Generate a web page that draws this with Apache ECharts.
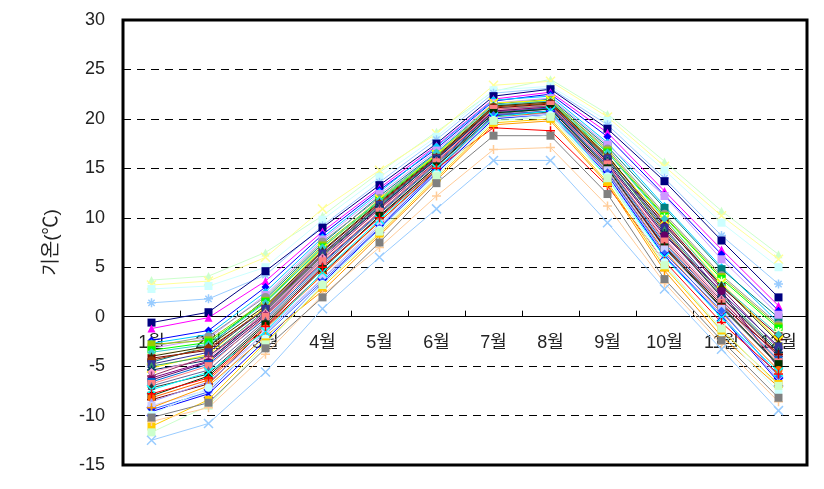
<!DOCTYPE html>
<html>
<head>
<meta charset="utf-8">
<script src="https://cdn.jsdelivr.net/npm/echarts@6/dist/echarts.min.js"></script>
<style>
  html, body { margin: 0; padding: 0; background: #fff; }
  #chart { width: 824px; height: 489px; }
</style>
</head>
<body>
<div id="chart"></div>
<script>
// 월
const months = ["1월", "2월", "3월", "4월", "5월", "6월", "7월", "8월", "9월", "10월", "11월", "12월"];
const yTicks = [-15, -10, -5, 0, 5, 10, 15, 20, 25, 30];

// 지점별 월평균기온
const s01 = [3.7, 4.1, 6.5, 10.2, 14.6, 18.7, 22.8, 24.0, 20.5, 15.7, 10.7, 6.3];
const s02 = [3.2, 3.6, 6.0, 10.9, 14.8, 18.5, 23.4, 23.8, 20.2, 15.2, 10.2, 5.8];
const s03 = [2.8, 3.1, 5.0, 9.8, 14.1, 18.2, 22.9, 23.3, 19.8, 14.8, 9.5, 5.0];
const s04 = [1.4, 1.8, 4.2, 9.2, 13.6, 17.9, 22.6, 23.1, 19.4, 14.0, 8.2, 3.3];
const s05 = [-0.6, 0.45, 4.6, 9.0, 13.3, 17.5, 22.3, 23.0, 19.0, 13.7, 7.7, 1.95];
const s06 = [-1.2, -0.1, 3.6, 8.6, 13.0, 17.3, 22.0, 22.7, 18.6, 12.7, 6.8, 1.1];
const s07 = [-2.4, -1.4, 3.0, 8.3, 12.8, 17.0, 21.8, 22.5, 18.2, 12.3, 6.3, 0.6];
const s08 = [-2.7, -1.8, 2.5, 8.0, 12.6, 17.2, 21.9, 22.3, 17.6, 11.2, 5.0, -0.6];
const s09 = [-4.6, -3.0, 1.8, 7.4, 12.2, 16.6, 21.5, 22.0, 17.2, 11.0, 4.8, -0.1];
const s10 = [-3.2, -2.2, 2.2, 7.8, 12.4, 16.8, 21.6, 22.1, 17.4, 12.2, 5.8, 0.2];
const s11 = [-3.0, -2.0, 2.0, 7.6, 12.0, 16.5, 21.2, 21.8, 17.0, 10.4, 4.2, -0.8];
const s12 = [-2.8, -2.4, 1.6, 7.2, 11.8, 16.4, 21.3, 21.9, 16.8, 10.2, 4.0, -1.0];
const s13 = [-3.4, -2.6, 1.5, 7.0, 11.7, 16.3, 21.0, 21.6, 16.6, 10.1, 3.8, -1.2];
const s14 = [-3.8, -3.2, 1.2, 6.8, 11.6, 16.2, 21.4, 21.7, 16.4, 10.0, 3.6, -1.5];
const s15 = [-4.2, -3.4, 0.9, 6.6, 11.5, 16.1, 21.1, 21.5, 16.2, 9.6, 3.0, -2.0];
const s16 = [-6.2, -4.5, 0.5, 6.2, 11.0, 16.0, 20.8, 21.3, 15.8, 9.4, 2.8, -3.2];
const s17 = [-5.2, -3.8, 1.0, 6.9, 11.9, 16.4, 21.6, 21.9, 16.0, 9.8, 3.4, -2.4];
const s18 = [-3.6, -2.8, 1.4, 7.0, 11.8, 16.6, 21.4, 21.8, 16.6, 9.9, 3.2, -1.8];
const s19 = [-4.0, -3.0, 1.1, 6.7, 11.6, 16.2, 21.3, 21.7, 16.3, 9.2, 3.2, -2.6];
const s20 = [-4.4, -3.2, 0.7, 6.3, 11.4, 16.1, 21.2, 21.6, 16.1, 8.6, 2.0, -3.8];
const s21 = [-4.8, -3.6, 0.8, 6.4, 11.3, 16.0, 21.0, 21.4, 16.0, 9.0, 2.4, -3.0];
const s22 = [-5.0, -4.0, 0.6, 6.2, 11.2, 15.9, 20.9, 21.3, 15.9, 8.8, 2.2, -3.4];
const s23 = [-5.4, -4.4, 0.3, 6.0, 11.1, 15.9, 21.0, 21.4, 15.7, 8.4, 2.0, -3.6];
const s24 = [-5.6, -4.2, 0.4, 6.0, 10.8, 15.8, 20.9, 21.2, 15.6, 8.0, 1.8, -4.2];
const s25 = [-6.0, -4.0, 0.2, 5.8, 10.9, 15.7, 20.7, 21.1, 15.2, 7.8, 1.6, -4.0];
const s26 = [-6.4, -4.6, 0.1, 5.5, 10.6, 15.6, 20.8, 21.2, 15.5, 8.2, 2.6, -5.2];
const s27 = [-6.6, -4.8, -0.2, 5.4, 10.5, 15.5, 20.6, 21.1, 15.3, 7.4, 1.4, -4.4];
const s28 = [-6.8, -5.0, 0.0, 5.6, 10.6, 15.6, 21.0, 21.4, 15.4, 7.6, 1.4, -4.6];
const s29 = [-7.0, -5.4, -0.4, 5.2, 10.4, 15.4, 20.5, 21.0, 15.1, 7.2, 1.2, -5.0];
const s30 = [-7.2, -5.8, -0.6, 5.0, 10.1, 15.2, 20.3, 20.7, 14.8, 6.9, 0.9, -4.9];
const s31 = [-8.0, -6.0, -0.8, 4.8, 10.2, 15.2, 20.6, 21.0, 15.0, 7.0, 1.0, -4.8];
const s32 = [-8.4, -6.8, -1.1, 4.4, 9.6, 14.8, 20.4, 20.8, 14.8, 7.1, 1.2, -3.8];
const s33 = [-8.2, -6.4, -1.2, 4.2, 9.6, 14.9, 20.2, 20.6, 14.6, 6.6, 0.4, -5.4];
const s34 = [-8.6, -6.6, -1.6, 3.8, 9.2, 14.6, 20.0, 20.6, 14.4, 6.2, 0.2, -6.4];
const s35 = [-9.0, -7.4, -1.4, 3.9, 9.4, 14.7, 20.1, 20.5, 14.8, 6.8, 0.8, -6.2];
const s36 = [-9.4, -7.6, -1.8, 3.6, 9.0, 14.8, 20.4, 20.8, 14.6, 6.4, 0.6, -6.0];
const s37 = [-9.6, -7.8, -2.4, 3.4, 8.9, 14.5, 20.0, 20.4, 14.3, 6.1, 0.0, -6.6];
const s38 = [-7.4, -5.6, -1.5, 4.5, 9.8, 15.0, 20.2, 20.8, 14.0, 6.0, -0.1, -5.6];
const s39 = [-7.8, -6.2, -1.0, 5.0, 10.0, 15.0, 19.1, 18.8, 13.2, 5.6, -0.6, -5.8];
const s40 = [-9.2, -7.0, -2.0, 2.6, 8.2, 13.8, 19.4, 19.8, 13.4, 4.65, -2.0, -7.1];
const s41 = [-9.9, -7.2, -2.2, 3.3, 8.8, 14.4, 19.9, 20.4, 14.2, 5.5, -1.6, -7.6];
const s42 = [-11.1, -8.4, -2.6, 3.0, 8.4, 14.0, 19.6, 20.0, 13.6, 5.0, -1.4, -6.8];
const s43 = [-11.7, -9.0, -2.8, 3.2, 8.6, 14.2, 19.8, 20.2, 14.0, 5.2, -1.2, -7.0];
const s44 = [-10.6, -9.2, -3.8, 2.2, 7.0, 12.2, 16.9, 17.1, 11.2, 3.4, -2.8, -8.6];
const s45 = [-10.2, -8.7, -3.2, 1.95, 7.5, 13.5, 18.3, 18.3, 12.4, 3.8, -2.4, -8.2];
const s46 = [-12.5, -10.8, -5.6, 0.8, 6.0, 10.9, 15.8, 15.8, 9.5, 2.8, -3.3, -9.5];

const seriesData = [s01, s02, s03, s04, s05, s06, s07, s08, s09, s10, s11, s12, s13, s14, s15, s16,
  s17, s18, s19, s20, s21, s22, s23, s24, s25, s26, s27, s28, s29, s30, s31, s32, s33, s34, s35,
  s36, s37, s38, s39, s40, s41, s42, s43, s44, s45, s46];

// 엑셀 기본 색 / 표식
const xMark = "path://M0,0L10,10M10,0L0,10";
const starMark = "path://M5,0L5,10M0,5L10,5M1.5,1.5L8.5,8.5M8.5,1.5L1.5,8.5";
const plusMark = "path://M5,0L5,10M0,5L10,5";
const styles = [
  ["#CCFFCC", "triangle"], ["#FFFF99", xMark], ["#CCFFFF", "rect"], ["#99CCFF", starMark],
  ["#000080", "rect"], ["#FF00FF", "triangle"], ["#0000FF", "diamond"], ["#00CCFF", "diamond"],
  ["#008080", "rect"], ["#CC99FF", "rect"], ["#969696", "circle"], ["#99CC00", "rect"],
  ["#00FF00", "rect"], ["#FFFFCC", starMark], ["#800000", "rect"], ["#800080", "circle"],
  ["#FFFF00", xMark], ["#33CCCC", "diamond"], ["#333300", "triangle"], ["#993300", "circle"],
  ["#333399", "rect"], ["#339966", "triangle"], ["#003366", starMark], ["#FF99CC", "diamond"],
  ["#993366", plusMark], ["#660066", "circle"], ["#0066CC", "rect"], ["#FF8080", "rect"],
  ["#666699", "triangle"], ["#333333", "diamond"], ["#003300", "rect"], ["#800000", plusMark],
  ["#FF6600", "circle"], ["#9999FF", "triangle"], ["#CCCCFF", "rect"], ["#3366FF", "diamond"],
  ["#0000FF", xMark], ["#00FFFF", xMark], ["#FF0000", plusMark], ["#FF9900", plusMark],
  ["#CCFFFF", "circle"], ["#FFCC00", "rect"], ["#CCFFCC", "rect"], ["#FFCC99", plusMark],
  ["#808080", "rect"], ["#99CCFF", xMark]
];

let mcharts = echarts.init(document.querySelector("#chart"));

let series = seriesData.map((d, i) => {
  let c = styles[i][0];
  let sym = styles[i][1];
  let stroke = sym.indexOf("path://") === 0;
  return {
    name: "지점" + (i + 1),
    type: "line",
    data: d,
    symbol: sym,
    symbolSize: stroke ? 9 : 8,
    color: c,
    lineStyle: { width: 1, color: c },
    itemStyle: { color: c, borderColor: c, borderWidth: stroke ? 1.5 : 0 },
  };
});

// 0선 위의 눈금 (범주 경계)
series.unshift({
  type: "custom",
  silent: true,
  data: months.slice(1).map((m) => [m, 0]),
  renderItem: (params, api) => {
    let p = api.coord([api.value(0), 0]);
    let w = api.size([1, 0])[0];
    let x = Math.round(p[0] - w / 2) + 0.5;
    return {
      type: "line",
      shape: { x1: x, y1: p[1], x2: x, y2: p[1] - 6 },
      style: { stroke: "#000", lineWidth: 1 },
    };
  },
});

let option = {
  backgroundColor: "#fff",
  animation: false,
  textStyle: { fontFamily: "'Liberation Sans', 'Noto Sans CJK KR', sans-serif" },
  grid: {
    left: 123,
    right: 17,
    top: 20,
    bottom: 24,
    outerBoundsMode: "none",
    containLabel: false,
    show: true,
    borderColor: "#000",
    borderWidth: 3,
  },
  xAxis: {
    type: "category",
    data: months,
    axisLine: { onZero: true, lineStyle: { color: "#000", width: 1 } },
    axisTick: { show: false },
    axisLabel: { color: "#222", fontSize: 18, margin: -131 },
    z: 1,
  },
  yAxis: {
    type: "value",
    name: "기온(℃)",
    nameLocation: "middle",
    nameGap: 62,
    nameTextStyle: { fontSize: 19, color: "#222" },
    min: yTicks[0],
    max: yTicks[yTicks.length - 1],
    interval: 5,
    axisLine: { show: false },
    axisTick: { show: false },
    axisLabel: { color: "#222", fontSize: 18, margin: 18 },
    splitLine: { lineStyle: { color: "#000", type: [8, 6], width: 1 } },
  },
  series: series,
};

mcharts.setOption(option);
</script>
</body>
</html>
